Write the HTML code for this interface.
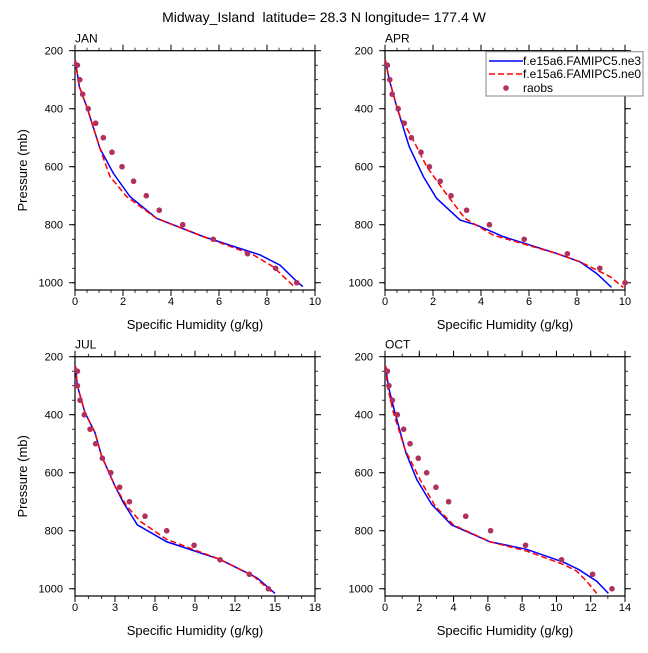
<!DOCTYPE html>
<html><head><meta charset="utf-8"><style>
body{margin:0;background:#fff;}
svg text{font-family:"Liberation Sans",sans-serif;fill:#000;}
</style></head><body>
<svg id="chart" width="648" height="648" xmlns="http://www.w3.org/2000/svg">
<text x="324" y="22" font-size="14" text-anchor="middle" xml:space="preserve">Midway_Island  latitude= 28.3 N longitude= 177.4 W</text>
</svg>
<script>
const obsP = [250,300,350,400,450,500,550,600,650,700,750,800,850,900,950,1000];
const janObs = [0.1,0.2,0.32,0.55,0.86,1.18,1.54,1.96,2.44,2.97,3.51,4.49,5.76,7.19,8.36,9.24];
const aprObs = [0.1,0.2,0.3,0.55,0.8,1.1,1.5,1.85,2.3,2.75,3.4,4.35,5.8,7.6,8.95,10];
const julObs = [0.18,0.18,0.38,0.7,1.13,1.55,2.05,2.68,3.35,4.08,5.25,6.88,8.93,10.88,13.08,14.5];
const octObs = [0.14,0.23,0.43,0.72,1.09,1.46,1.94,2.43,2.97,3.71,4.71,6.16,8.2,10.3,12.11,13.24];

const janNe3P = [232,324,393,537,623,703,778,841,904,939,990,1013];
const janNe3Q = [0.01,0.18,0.49,1.04,1.6,2.29,3.4,5.35,7.71,8.54,9.17,9.49];
const janNe0P = [232,324,393,554,634,703,778,841,904,945,1011];
const janNe0Q = [0.01,0.18,0.49,1.11,1.46,2.15,3.4,5.35,7.43,8.26,9.1];

const aprNe3P = [232,301,393,531,634,709,784,801,841,899,928,968,1016];
const aprNe3Q = [0.01,0.18,0.49,1.01,1.6,2.15,3.13,3.82,4.93,7.15,8.13,8.82,9.44];
const aprNe0P = [232,301,393,428,497,600,680,778,836,899,928,979,1016];
const aprNe0Q = [0.01,0.18,0.49,0.63,1.11,1.74,2.43,3.33,4.51,7.15,8.13,9.38,9.93];

const julNe3P = [232,301,393,462,543,646,703,780,838,899,962,991,1016];
const julNe3Q = [0.03,0.18,0.75,1.5,2,3,3.63,4.68,6.88,10.88,13.63,14.38,15];
const julNe0P = [232,301,393,462,543,646,715,767,830,899,956,1016];
const julNe0Q = [0.03,0.18,0.75,1.5,2,3,3.88,4.88,6.88,10.88,13.38,14.88];

const octNe3P = [232,301,393,531,623,709,780,838,864,908,933,974,1016];
const octNe3Q = [0.04,0.19,0.58,1.22,1.85,2.72,3.89,6.12,8.26,10.4,11.28,12.35,13.03];
const octNe0P = [232,301,393,520,623,715,780,838,870,916,939,974,1016];
const octNe0Q = [0.04,0.14,0.49,1.17,2.04,2.92,3.99,6.12,8.26,10.4,11.18,11.76,12.35];

const yTicks = [200,400,600,800,1000];
const janXTicks = [0,2,4,6,8,10];
const julXTicks = [0,3,6,9,12,15,18];
const octXTicks = [0,2,4,6,8,10,12,14];
const legendLabels = ["f.e15a6.FAMIPC5.ne3","f.e15a6.FAMIPC5.ne0","raobs"];

const NS="http://www.w3.org/2000/svg";
const svg=document.getElementById('chart');
function mk(tag,attrs,parent){const e=document.createElementNS(NS,tag);for(const k in attrs)e.setAttribute(k,attrs[k]);(parent||svg).appendChild(e);return e;}

function panel(name,x0,y0,xmax,xTicks,minorStep,obs,n3q,n3p,n0q,n0p,leftTitle){
  const W=240,H=239.3,pMin=200,pMax=1025;
  const g=mk('g',{});
  
  
  const sx=v=>x0+v/xmax*W;
  const sy=p=>y0+(p-pMin)/(pMax-pMin)*H;
  for(let v=0;v<=xmax+1e-9;v+=minorStep){
    mk('line',{x1:sx(v),x2:sx(v),y1:y0+H,y2:y0+H+3,stroke:'#000','stroke-width':0.8},g);
    mk('line',{x1:sx(v),x2:sx(v),y1:y0,y2:y0-3,stroke:'#000','stroke-width':0.8},g);
  }
  for(let p=200;p<=1000;p+=50){
    mk('line',{x1:x0,x2:x0-3,y1:sy(p),y2:sy(p),stroke:'#000','stroke-width':0.8},g);
    mk('line',{x1:x0+W,x2:x0+W+3,y1:sy(p),y2:sy(p),stroke:'#000','stroke-width':0.8},g);
  }
  xTicks.forEach(v=>{
    mk('line',{x1:sx(v),x2:sx(v),y1:y0+H,y2:y0+H+6,stroke:'#000','stroke-width':1},g);
    mk('line',{x1:sx(v),x2:sx(v),y1:y0,y2:y0-6,stroke:'#000','stroke-width':1},g);
    const t=mk('text',{x:sx(v),y:y0+H+15,'font-size':11,'text-anchor':'middle'},g);t.textContent=v;
    
    
  });
  yTicks.forEach(p=>{
    mk('line',{x1:x0,x2:x0-6,y1:sy(p),y2:sy(p),stroke:'#000','stroke-width':1},g);
    mk('line',{x1:x0+W,x2:x0+W+6,y1:sy(p),y2:sy(p),stroke:'#000','stroke-width':1},g);
    const t=mk('text',{x:x0-12,y:sy(p)+4,'font-size':11,'text-anchor':'end'},g);t.textContent=p;
    
    
  });
  mk('rect',{x:x0,y:y0,width:W,height:H,fill:'none',stroke:'#000','stroke-width':1.2},g);
  const lbl=mk('text',{x:x0,y:y0-8,'font-size':12},g);lbl.textContent=name.toUpperCase();
  
  
  const xt=mk('text',{x:x0+W/2,y:y0+H+39,'font-size':13,'text-anchor':'middle'},g);xt.textContent='Specific Humidity (g/kg)';
  
  
  if(leftTitle){
    const cy=y0+H/2;
    const yt=mk('text',{x:27,y:cy,'font-size':13,'text-anchor':'middle',transform:`rotate(-90 27 ${cy})`},g);yt.textContent='Pressure (mb)';
    
    
  }
  const l3=mk('polyline',{points:n3q.map((q,i)=>sx(q)+','+sy(n3p[i])).join(' '),fill:'none',stroke:'#0000ff','stroke-width':1.5},g);
  
  
  const l0=mk('polyline',{points:n0q.map((q,i)=>sx(q)+','+sy(n0p[i])).join(' '),fill:'none',stroke:'#ff0000','stroke-width':1.5,'stroke-dasharray':'6,3'},g);
  
  
  obs.forEach((q,i)=>{
    const c=mk('circle',{cx:sx(q),cy:sy(obsP[i]),r:2.8,fill:'#b03060'},g);
    
    
  });
}
panel('jan',75,50.7,10,janXTicks,0.5,janObs,janNe3Q,janNe3P,janNe0Q,janNe0P,true);
panel('apr',385,50.7,10,janXTicks,0.5,aprObs,aprNe3Q,aprNe3P,aprNe0Q,aprNe0P,false);
panel('jul',75,356.7,18,julXTicks,1,julObs,julNe3Q,julNe3P,julNe0Q,julNe0P,true);
panel('oct',385,356.7,14,octXTicks,1,octObs,octNe3Q,octNe3P,octNe0Q,octNe0P,false);

const lg=mk('g',{});


mk('rect',{x:486,y:51.7,width:157,height:44.3,fill:'#fff',stroke:'#888','stroke-width':1},lg);
const rows=[61,74,88];
mk('line',{x1:489,x2:523,y1:rows[0],y2:rows[0],stroke:'#0000ff','stroke-width':1.5},lg);
mk('line',{x1:489,x2:523,y1:rows[1],y2:rows[1],stroke:'#ff0000','stroke-width':1.5,'stroke-dasharray':'6,3'},lg);
mk('circle',{cx:506,cy:rows[2],r:2.8,fill:'#b03060'},lg);
legendLabels.forEach((s,i)=>{
  const t=mk('text',{x:523,y:rows[i]+4,'font-size':12},lg);t.textContent=s;
  
  
});
</script>
</body></html>
